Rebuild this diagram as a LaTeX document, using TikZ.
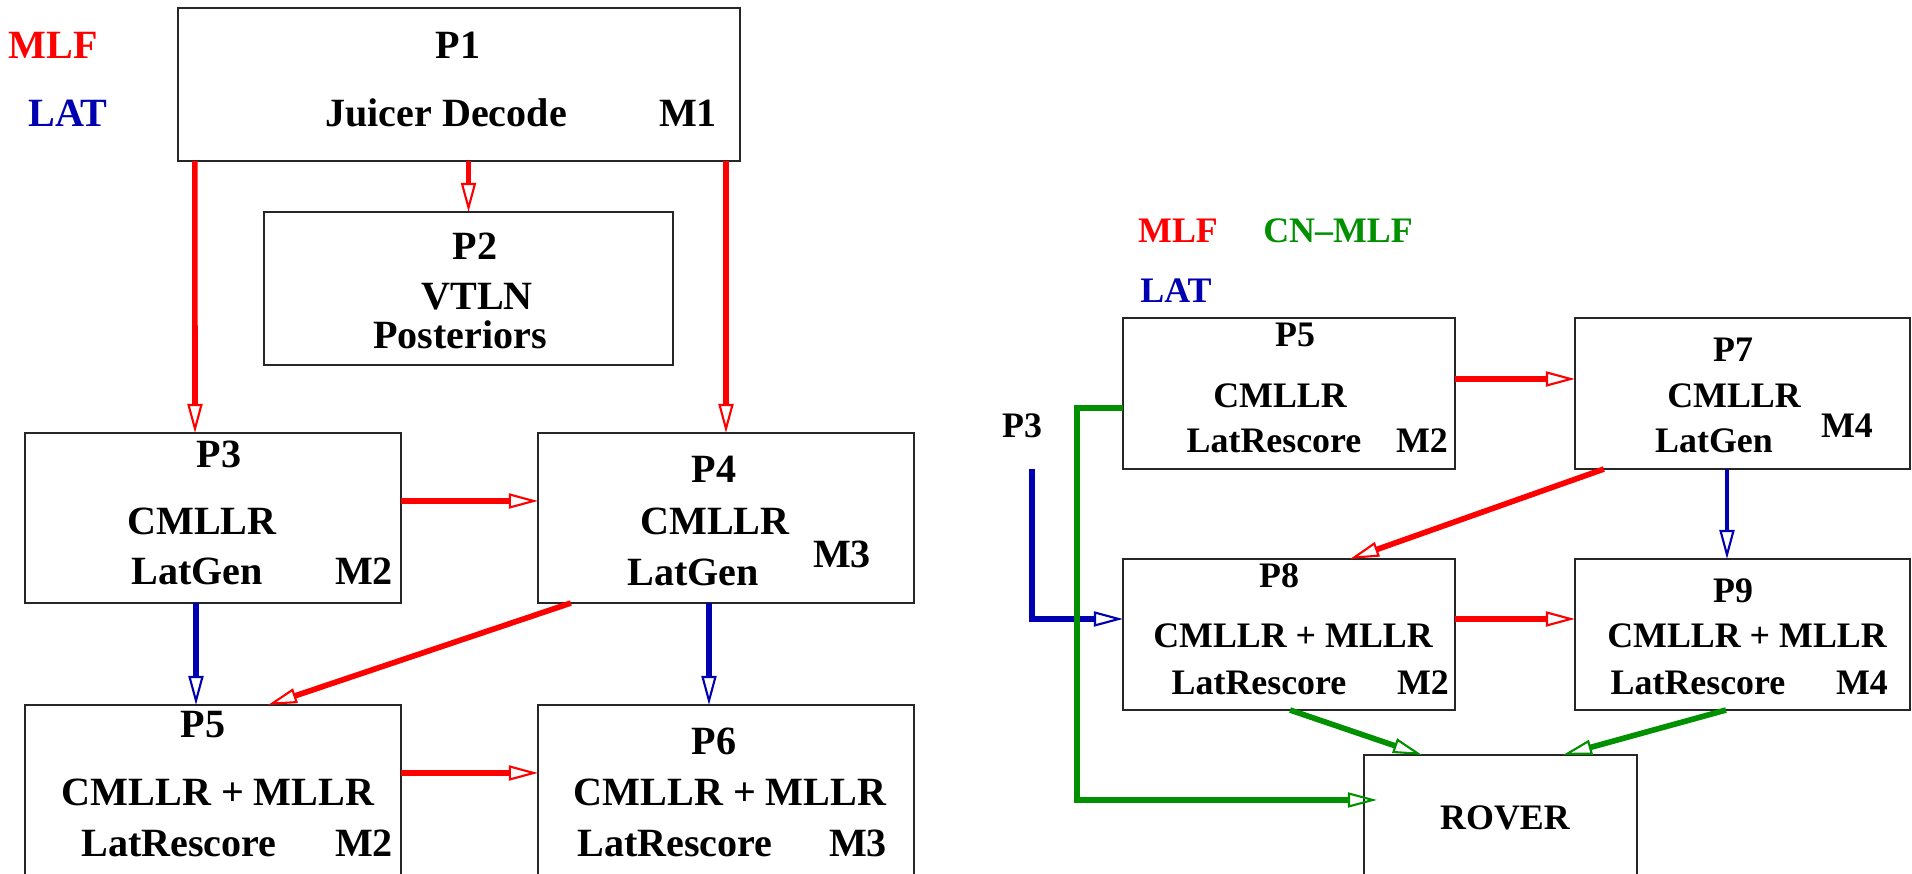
\documentclass[tikz,border=0pt]{standalone}
\usepackage{fontspec}
\setmainfont{Liberation Serif}
\usetikzlibrary{arrows.meta}
\definecolor{mlfred}{RGB}{255,0,0}
\definecolor{latblue}{RGB}{0,0,176}
\definecolor{cngreen}{RGB}{0,144,0}
\begin{document}
\begin{tikzpicture}[x=0.01cm,y=-0.01cm,
    proc/.style={draw=black!85,line width=0.6pt,inner sep=0pt,outer sep=0pt},
    lt/.style={anchor=base,inner sep=0pt,font=\fontsize{11.4}{13}\selectfont\bfseries},
    rt/.style={anchor=base,inner sep=0pt,font=\fontsize{10.2}{12}\selectfont\bfseries},
    flow/.style={line width=1.6pt,-{Triangle[open,length=0.29cm,width=0.15cm,line width=0.6pt]}},
    mlf/.style={flow,color=mlfred},
    lat/.style={flow,color=latblue},
    cn/.style={flow,color=cngreen}]
    \useasboundingbox (0,0) rectangle (1912,874);
    \clip (0,0) rectangle (1912,874);
    \node[proc,minimum width=5.62cm,minimum height=1.53cm] (p1) at (459,84.5) {};
    \node[proc,minimum width=4.09cm,minimum height=1.53cm] (p2) at (468.5,288.5) {};
    \node[proc,minimum width=3.76cm,minimum height=1.70cm] (p3) at (213,518) {};
    \node[proc,minimum width=3.76cm,minimum height=1.70cm] (p4) at (726,518) {};
    \node[proc,minimum width=3.76cm,minimum height=1.75cm] (p5) at (213,792.5) {};
    \node[proc,minimum width=3.76cm,minimum height=1.75cm] (p6) at (726,792.5) {};
    \node[proc,minimum width=3.32cm,minimum height=1.51cm] (rp5) at (1289,393.5) {};
    \node[proc,minimum width=3.35cm,minimum height=1.51cm] (rp7) at (1742.5,393.5) {};
    \node[proc,minimum width=3.32cm,minimum height=1.51cm] (rp8) at (1289,634.5) {};
    \node[proc,minimum width=3.35cm,minimum height=1.51cm] (rp9) at (1742.5,634.5) {};
    \node[proc,minimum width=2.73cm,minimum height=1.25cm] (rover) at (1500.5,817.5) {};

    \node[lt,color=mlfred] (mlfa) at (53,59) {MLF};
    \node[lt,color=latblue] (lata) at (68,127) {LAT};
    \node[lt] (p1n) at (458,59) {P1};
    \node[lt] (p1a) at (446,127) {Juicer Decode};
    \node[lt] (p1m) at (688,127) {M1};
    \node[lt] (p2n) at (475,260) {P2};
    \node[lt] (p2a) at (477,310) {VTLN};
    \node[lt] (p2b) at (460,349) {Posteriors};
    \node[lt] (p3n) at (219,468) {P3};
    \node[lt] (p3a) at (202,535) {CMLLR};
    \node[lt] (p3b) at (197,585) {LatGen};
    \node[lt] (p3m) at (364,585) {M2};
    \node[lt] (p4n) at (714,483) {P4};
    \node[lt] (p4a) at (715,535) {CMLLR};
    \node[lt] (p4b) at (693,586) {LatGen};
    \node[lt] (p4m) at (842,568) {M3};
    \node[lt] (p5n) at (203,738) {P5};
    \node[lt] (p5a) at (218,806) {CMLLR + MLLR};
    \node[lt] (p5b) at (179,857) {LatRescore};
    \node[lt] (p5m) at (364,857) {M2};
    \node[lt] (p6n) at (714,755) {P6};
    \node[lt] (p6a) at (730,806) {CMLLR + MLLR};
    \node[lt] (p6b) at (675,857) {LatRescore};
    \node[lt] (p6m) at (858,857) {M3};

    \node[rt,color=mlfred] (mlfb) at (1178,243) {MLF};
    \node[rt,color=cngreen] (cnmlf) at (1338,243) {CN--MLF};
    \node[rt,color=latblue] (latb) at (1176,303) {LAT};
    \node[rt] (p3in) at (1022,438) {P3};
    \node[rt] (rp5n) at (1295,347) {P5};
    \node[rt] (rp5a) at (1280,408) {CMLLR};
    \node[rt] (rp5b) at (1274,453) {LatRescore};
    \node[rt] (rp5m) at (1422,453) {M2};
    \node[rt] (rp7n) at (1733,362) {P7};
    \node[rt] (rp7a) at (1734,408) {CMLLR};
    \node[rt] (rp7b) at (1714,453) {LatGen};
    \node[rt] (rp7m) at (1847,438) {M4};
    \node[rt] (rp8n) at (1279,588) {P8};
    \node[rt] (rp8a) at (1293,648) {CMLLR + MLLR};
    \node[rt] (rp8b) at (1259,695) {LatRescore};
    \node[rt] (rp8m) at (1423,695) {M2};
    \node[rt] (rp9n) at (1733,603) {P9};
    \node[rt] (rp9a) at (1747,648) {CMLLR + MLLR};
    \node[rt] (rp9b) at (1698,695) {LatRescore};
    \node[rt] (rp9m) at (1862,695) {M4};
    \node[rt] (rovt) at (1505,830) {ROVER};

    \draw[mlf] ([xshift=0.17cm]p1.south west) -- ([xshift=-0.18cm]p3.north);
    \draw[mlf] (p1.south -| p2.north) -- (p2.north);
    \draw[mlf] (p1.south -| p4.north) -- (p4.north);
    \draw[mlf] ([yshift=0.17cm]p3.east) -- ([yshift=0.17cm]p4.west);
    \draw[lat] ([xshift=-0.17cm]p3.south) -- ([xshift=-0.17cm]p5.north);
    \draw[mlf] ([xshift=0.33cm]p4.south west) -- ([xshift=0.55cm]p5.north);
    \draw[lat] ([xshift=-0.17cm]p4.south) -- ([xshift=-0.17cm]p6.north);
    \draw[mlf] ([yshift=-0.68cm]p5.north east) -- ([yshift=-0.68cm]p6.north west);

    \draw[mlf] ([yshift=-0.61cm]rp5.north east) -- ([yshift=-0.61cm]rp7.north west);
    \draw[mlf] ([xshift=0.29cm]rp7.south west) -- ([xshift=2.27cm]rp8.north west);
    \draw[lat,line width=1.1pt] ([xshift=-0.155cm]rp7.south) -- ([xshift=-0.155cm]rp9.north);
    \draw[mlf] ([yshift=-0.6cm]rp8.north east) -- ([yshift=-0.6cm]rp9.north west);
    \coordinate (lat3) at (1032,469);
    \draw[lat] (lat3) |- ([yshift=0.155cm]rp8.west);
    \draw[cn] ([yshift=-0.145cm]rp5.west) -- ++(-46,0) |- ([xshift=0.13cm,yshift=0.175cm]rover.west);
    \draw[cn] ([xshift=1.67cm]rp8.south west) -- ([xshift=0.58cm]rover.north west);
    \draw[cn] ([xshift=-0.165cm]rp9.south) -- ([xshift=-0.74cm]rover.north east);
\end{tikzpicture}
\end{document}
